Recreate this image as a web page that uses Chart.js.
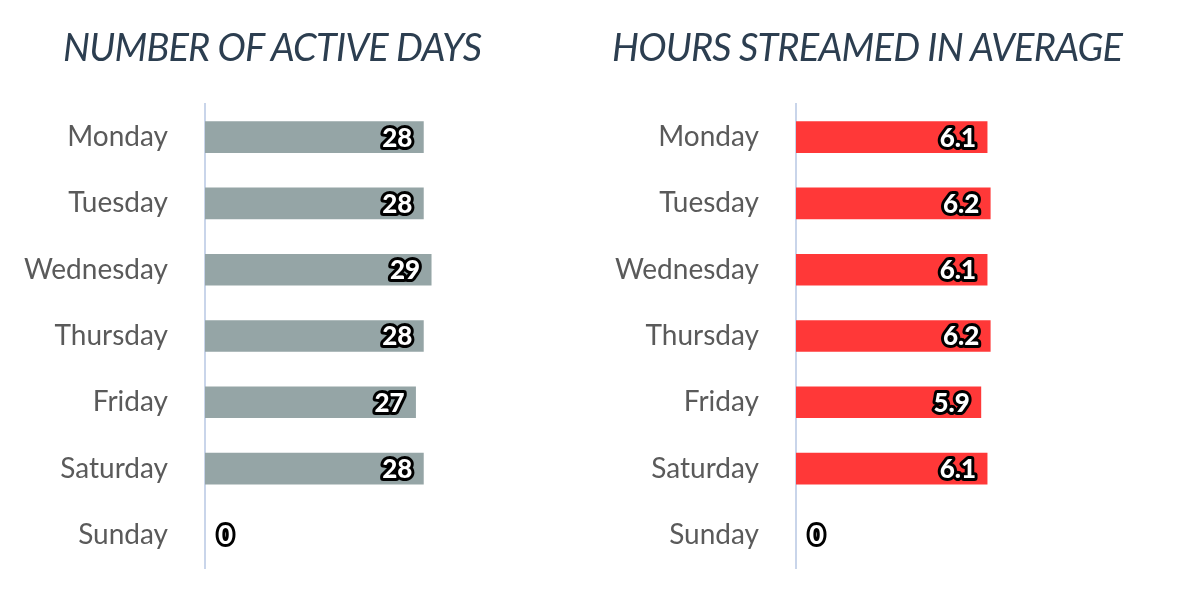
<!DOCTYPE html>
<html>
<head>
<meta charset="utf-8">
<script src="https://cdn.jsdelivr.net/npm/chart.js@4"></script>
<style>
  html, body { margin: 0; padding: 0; background: #ffffff; }
  body { width: 1200px; height: 609px; position: relative; overflow: hidden; font-family: Lato, sans-serif; }
  .box { position: absolute; top: 0; width: 600px; height: 609px; }
  .title { position: absolute; top: 23px; font-family: Lato, sans-serif; font-style: italic; font-weight: 400;
           font-size: 38px; color: #2c3e50; white-space: nowrap; letter-spacing: -0.8px; }
</style>
</head>
<body>
<div class="box" style="left:0"><canvas id="c1" width="600" height="609"></canvas></div>
<div class="box" style="left:600px"><canvas id="c2" width="600" height="609"></canvas></div>
<div class="title" style="left:63px">NUMBER OF ACTIVE DAYS</div>
<div class="title" style="left:612px">HOURS STREAMED IN AVERAGE</div>
<script>
const days = ["Monday", "Tuesday", "Wednesday", "Thursday", "Friday", "Saturday", "Sunday"];
const activeDays = [28, 28, 29, 28, 27, 28, 0];
const hoursStreamed = [6.1, 6.2, 6.1, 6.2, 5.9, 6.1, 0];
const titles = ["NUMBER OF ACTIVE DAYS", "HOURS STREAMED IN AVERAGE"];

const valueLabels = {
  id: "valueLabels",
  afterDatasetsDraw(chart) {
    const ctx = chart.ctx;
    const meta = chart.getDatasetMeta(0);
    const data = chart.data.datasets[0].data;
    ctx.save();
    ctx.font = "900 26px Lato, sans-serif";
    ctx.textBaseline = "middle";
    ctx.lineJoin = "round";
    ctx.lineWidth = 6;
    ctx.strokeStyle = "#000000";
    ctx.fillStyle = "#ffffff";
    meta.data.forEach((bar, i) => {
      const v = data[i];
      const txt = String(v);
      let x;
      if (v === 0) { ctx.textAlign = "left"; x = bar.base + 13; }
      else { ctx.textAlign = "right"; x = bar.x - 11; }
      ctx.strokeText(txt, x, bar.y + 1);
      ctx.fillText(txt, x, bar.y + 1);
    });
    ctx.restore();
  }
};

function makeChart(id, values, color, max, axisLeft, padRight) {
  return new Chart(document.getElementById(id), {
    type: "bar",
    data: { labels: days, datasets: [{ data: values,
      backgroundColor: (c) => (c.raw === 0 ? "rgba(0,0,0,0)" : color),
      borderWidth: 0, barThickness: 31 }] },
    options: {
      indexAxis: "y",
      responsive: false,
      animation: false,
      layout: { padding: { top: 104, bottom: 41, left: 0, right: padRight } },
      plugins: { legend: { display: false }, tooltip: { enabled: false }, title: { display: false } },
      scales: {
        x: { display: false, min: 0, max: max },
        y: {
          grid: { display: false, drawTicks: false },
          border: { display: true, color: "#c9d5ea", width: 2 },
          ticks: { color: "#5a5a5a", font: { family: "Lato, sans-serif", size: 28 }, padding: 37 },
          afterFit(scale) { scale.width = axisLeft; scale.paddingTop = 0; scale.paddingBottom = 0; }
        }
      }
    },
    plugins: [valueLabels]
  });
}

makeChart("c1", activeDays, "#95a5a6", 45, 205, 44);
makeChart("c2", hoursStreamed, "#ff3838", 12, 196, 28);
</script>
</body>
</html>
